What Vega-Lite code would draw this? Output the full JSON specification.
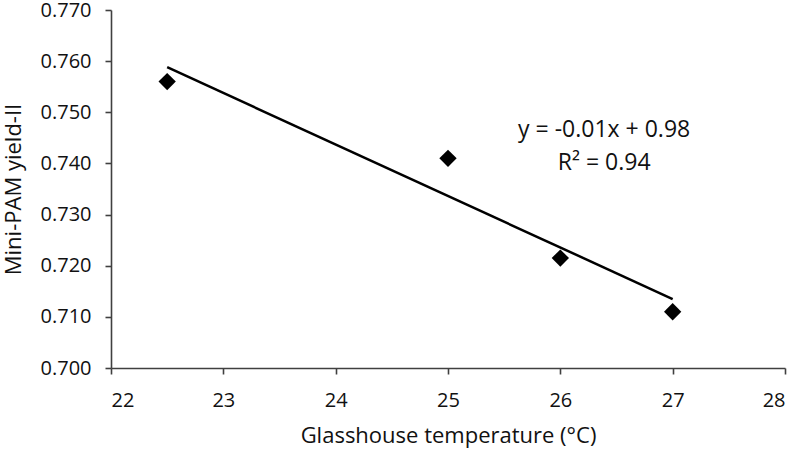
{
  "$schema": "https://vega.github.io/schema/vega-lite/v6.json",
  "width": 674,
  "height": 358,
  "autosize": {"type": "none"},
  "padding": {"left": 111, "top": 10, "right": 15, "bottom": 83},
  "background": "white",
  "config": {
    "view": {"stroke": null},
    "font": "Open Sans",
    "axis": {
      "grid": false,
      "domainColor": "#404040",
      "domainWidth": 1.6,
      "tickColor": "#404040",
      "tickWidth": 1.6,
      "tickSize": 6,
      "labelFont": "Open Sans",
      "labelFontSize": 20,
      "labelColor": "#111111",
      "labelOverlap": false,
      "titleFont": "Open Sans",
      "titleFontSize": 22,
      "titleFontWeight": "normal",
      "titleColor": "#111111"
    }
  },
  "data": {
    "values": [
      {"temp": 22.5, "yield": 0.756},
      {"temp": 25, "yield": 0.741},
      {"temp": 26, "yield": 0.7215},
      {"temp": 27, "yield": 0.711}
    ]
  },
  "encoding": {
    "x": {"field": "temp", "type": "quantitative", "scale": {"domain": [22, 28], "nice": false, "zero": false},
      "axis": {"title": "Glasshouse temperature (°C)", "values": [22, 23, 24, 25, 26, 27, 28], "labelPadding": 16, "titlePadding": 15}},
    "y": {"field": "yield", "type": "quantitative", "scale": {"domain": [0.7, 0.77], "nice": false, "zero": false},
      "axis": {"title": "Mini-PAM yield-II", "values": [0.7, 0.71, 0.72, 0.73, 0.74, 0.75, 0.76, 0.77], "format": ".3f", "labelPadding": 14, "titlePadding": 15}}
  },
  "layer": [
    {
      "mark": {"type": "point", "shape": "diamond", "filled": true, "color": "black", "size": 300, "opacity": 1}
    },
    {
      "transform": [{"regression": "yield", "on": "temp"}],
      "mark": {"type": "line", "color": "black", "strokeWidth": 2.5}
    },
    {
      "data": {"values": [
        {"temp": 26.39, "yield": 0.7465, "label": "y = -0.01x + 0.98"},
        {"temp": 26.39, "yield": 0.7401, "label": "R² = 0.94"}
      ]},
      "mark": {"type": "text", "fontSize": 23, "color": "#111111", "align": "center", "baseline": "middle", "font": "Open Sans"},
      "encoding": {
        "text": {"field": "label"}
      }
    }
  ]
}
